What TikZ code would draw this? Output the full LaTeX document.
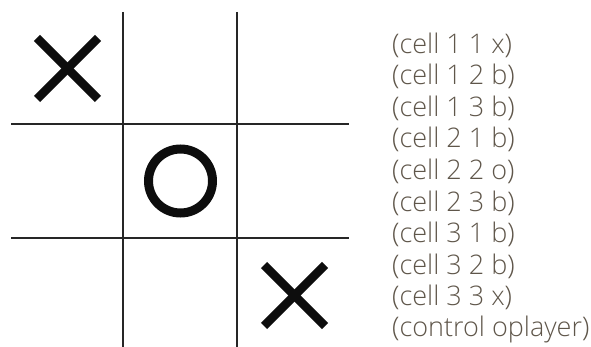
\documentclass[tikz,border=0pt]{standalone}
\usepackage{fontspec}
\setmainfont{Open Sans}[UprightFont=* Light]
\definecolor{txt}{RGB}{95,86,74}
\begin{document}
\begin{tikzpicture}[x=1pt,y=-1pt,
  gridline/.style={line width=1.4pt,black!85},
  mark x/.style={line width=8.5pt,black!95},
  mark o/.style={line width=9pt,black!95},
  fact/.style={anchor=west,text=txt,font=\fontsize{27}{27}\selectfont,inner sep=0pt}]
\useasboundingbox (0,0) rectangle (591,347);
\coordinate (v1t) at (123,12); \coordinate (v1b) at (123,347);
\coordinate (v2t) at (237,12); \coordinate (v2b) at (237,347);
\coordinate (h1l) at (11,124); \coordinate (h1r) at (349,124);
\coordinate (h2l) at (11,238); \coordinate (h2r) at (349,238);
\draw[gridline] (v1t) -- (v1b);
\draw[gridline] (v2t) -- (v2b);
\draw[gridline] (h1l) -- (h1r);
\draw[gridline] (h2l) -- (h2r);
% X top-left
\coordinate (xa1) at (37,38); \coordinate (xa2) at (98,99);
\coordinate (xa3) at (37,99); \coordinate (xa4) at (98,38);
\draw[mark x] (xa1) -- (xa2);
\draw[mark x] (xa3) -- (xa4);
% O center
\coordinate (oc) at (180.5,181);
\draw[mark o] (oc) circle (32);
% X bottom-right
\coordinate (xb1) at (264,265); \coordinate (xb2) at (325,326);
\coordinate (xb3) at (264,326); \coordinate (xb4) at (325,265);
\draw[mark x] (xb1) -- (xb2);
\draw[mark x] (xb3) -- (xb4);
% facts
\node[fact] (f1) at (392,45) {(cell 1 1 x)};
\node[fact] (f2) at (392,76.6) {(cell 1 2 b)};
\node[fact] (f3) at (392,108.2) {(cell 1 3 b)};
\node[fact] (f4) at (392,139.8) {(cell 2 1 b)};
\node[fact] (f5) at (392,171.4) {(cell 2 2 o)};
\node[fact] (f6) at (392,203) {(cell 2 3 b)};
\node[fact] (f7) at (392,234.6) {(cell 3 1 b)};
\node[fact] (f8) at (392,266.2) {(cell 3 2 b)};
\node[fact] (f9) at (392,297.8) {(cell 3 3 x)};
\node[fact] (f10) at (392,329.4) {(control oplayer)};
\end{tikzpicture}
\end{document}
